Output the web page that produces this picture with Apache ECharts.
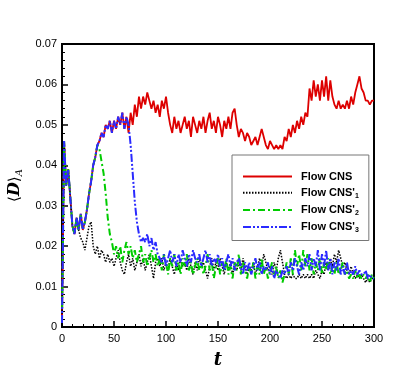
<!DOCTYPE html>
<html>
<head>
<meta charset="utf-8">
<script src="https://cdn.jsdelivr.net/npm/echarts@6/dist/echarts.min.js"></script>
<style>
  html, body { margin: 0; padding: 0; background: #fff; }
  #chart { width: 415px; height: 369px; }
</style>
</head>
<body>
<div id="chart"></div>
<script>
// sample times (t), every 2 units
const times = [0,2,4,6,8,10,12,14,16,18,20,22,24,26,28,30,32,34,36,38,40,42,44,46,48,50,
  52,54,56,58,60,62,64,66,68,70,72,74,76,78,80,82,84,86,88,90,92,94,96,98,100,
  102,104,106,108,110,112,114,116,118,120,122,124,126,128,130,132,134,136,138,140,142,144,146,148,150,
  152,154,156,158,160,162,164,166,168,170,172,174,176,178,180,182,184,186,188,190,192,194,196,198,200,
  202,204,206,208,210,212,214,216,218,220,222,224,226,228,230,232,234,236,238,240,242,244,246,248,250,
  252,254,256,258,260,262,264,266,268,270,272,274,276,278,280,282,284,286,288,290,292,294,296,298,300];

const flowCNS = [
  0.001,0.046,0.035,0.039,0.032,0.025,0.023,0.027,0.024,0.028,0.024,0.026,0.029,0.033,0.036,0.040,0.042,0.045,
  0.046,0.048,0.047,0.050,0.049,0.051,0.048,0.051,0.049,0.052,0.050,0.053,0.049,0.052,
  0.048,0.053,0.050,0.055,0.052,0.057,0.054,0.057,0.055,0.058,0.056,0.054,0.056,0.053,0.055,0.052,0.056,0.054,0.057,
  0.053,0.050,0.048,0.052,0.049,0.051,0.048,0.050,0.052,0.049,0.051,0.047,0.052,0.050,0.048,0.051,0.049,0.052,0.048,0.051,0.053,0.049,0.051,0.048,0.052,
  0.050,0.047,0.051,0.049,0.052,0.049,0.053,0.054,0.050,0.047,0.049,0.048,0.046,0.048,0.047,0.045,0.046,0.047,0.045,0.047,0.049,0.047,0.045,0.044,0.046,
  0.045,0.044,0.045,0.044,0.045,0.044,0.047,0.046,0.049,0.047,0.050,0.048,0.051,0.049,0.052,0.050,0.053,0.052,0.059,0.056,0.061,0.057,0.060,0.056,0.061,
  0.057,0.062,0.056,0.061,0.057,0.055,0.054,0.056,0.054,0.055,0.054,0.056,0.054,0.057,0.055,0.058,0.060,0.062,0.059,0.058,0.056,0.056,0.055,0.056,0.056];

const flowCNS1 = [
  0.001,0.046,0.035,0.039,0.032,0.025,0.023,0.027,0.024,
  0.022,0.021,0.019,0.022,0.025,0.026,0.020,0.018,0.020,0.017,0.019,0.018,0.016,0.018,0.016,0.017,0.015,0.017,0.019,0.016,0.014,0.013,0.016,
  0.018,0.015,0.017,0.014,0.016,0.018,0.015,0.017,0.014,0.016,0.018,0.015,0.012,0.016,0.017,0.015,0.017,0.014,0.016,
  0.014,0.017,0.015,0.013,0.016,0.014,0.017,0.015,0.016,0.014,0.017,0.015,0.013,0.016,0.014,0.017,0.015,0.016,0.014,0.012,0.015,0.017,0.014,0.016,0.014,
  0.017,0.015,0.013,0.016,0.014,0.016,0.013,0.015,0.014,0.016,0.014,0.017,0.015,0.013,0.015,0.014,0.016,0.013,0.015,0.017,0.015,0.018,0.016,0.014,0.015,
  0.013,0.016,0.014,0.017,0.019,0.016,0.013,0.012,0.013,0.012,0.013,0.012,0.012,0.013,0.012,0.013,0.012,0.013,0.012,0.013,0.012,0.014,0.013,0.012,0.014,
  0.013,0.016,0.014,0.017,0.015,0.018,0.016,0.019,0.017,0.015,0.016,0.014,0.013,0.015,0.013,0.012,0.013,0.012,0.013,0.012,0.011,0.012,0.011,0.012,0.012];

const flowCNS2 = [
  0.001,0.046,0.035,0.039,0.032,0.025,0.023,0.027,0.024,0.028,0.024,0.026,0.029,0.033,0.036,0.040,0.042,0.045,
  0.044,0.041,0.038,0.033,0.027,0.023,0.021,0.018,0.020,0.017,0.020,0.016,0.019,0.021,
  0.018,0.020,0.017,0.019,0.016,0.018,0.020,0.016,0.018,0.015,0.017,0.019,0.016,0.018,0.015,0.017,0.014,0.018,0.016,
  0.013,0.017,0.015,0.018,0.014,0.016,0.013,0.017,0.015,0.018,0.014,0.016,0.013,0.015,0.017,0.014,0.016,0.013,0.015,0.018,0.014,0.016,0.012,0.015,0.017,
  0.013,0.016,0.014,0.017,0.013,0.015,0.012,0.016,0.014,0.018,0.013,0.016,0.014,0.012,0.015,0.013,0.016,0.012,0.015,0.013,0.017,0.013,0.015,0.012,0.014,
  0.016,0.013,0.015,0.012,0.014,0.011,0.013,0.016,0.013,0.017,0.013,0.019,0.015,0.018,0.014,0.019,0.015,0.018,0.014,0.017,0.013,0.016,0.014,0.017,0.013,
  0.016,0.014,0.017,0.013,0.015,0.013,0.016,0.013,0.014,0.016,0.013,0.014,0.012,0.013,0.012,0.014,0.012,0.013,0.012,0.013,0.012,0.013,0.011,0.013,0.012];

const flowCNS3 = [
  0.001,0.046,0.035,0.039,0.032,0.025,0.023,0.027,0.024,0.028,0.024,0.026,0.029,0.033,0.036,0.040,0.042,0.045,
  0.046,0.048,0.047,0.050,0.049,0.051,0.048,0.051,0.049,0.052,0.050,0.053,0.049,0.052,
  0.050,0.045,0.038,0.031,0.026,0.023,0.021,0.022,0.021,0.023,0.020,0.022,0.019,0.021,0.018,0.017,0.016,0.018,0.015,
  0.017,0.019,0.016,0.018,0.015,0.018,0.016,0.019,0.017,0.015,0.018,0.016,0.019,0.017,0.016,0.018,0.015,0.017,0.019,0.016,0.018,0.015,0.017,0.016,0.018,
  0.015,0.017,0.014,0.016,0.018,0.015,0.017,0.014,0.016,0.017,0.015,0.013,0.016,0.014,0.016,0.013,0.015,0.017,0.014,0.016,0.013,0.015,0.014,0.016,0.013,
  0.015,0.012,0.014,0.013,0.012,0.014,0.013,0.015,0.013,0.016,0.014,0.017,0.015,0.013,0.016,0.014,0.017,0.015,0.018,0.014,0.017,0.015,0.019,0.014,0.018,
  0.015,0.019,0.014,0.017,0.013,0.016,0.014,0.017,0.013,0.015,0.013,0.016,0.013,0.014,0.013,0.015,0.013,0.014,0.013,0.013,0.014,0.012,0.013,0.012,0.012];

const xTicks = [0, 50, 100, 150, 200, 250, 300];
const yTicks = [0, 0.01, 0.02, 0.03, 0.04, 0.05, 0.06, 0.07];

const chart = echarts.init(document.getElementById('chart'));

function pairs(vals) {
  return times.map((t, i) => [t, vals[i]]);
}

const legendNames = {
  'Flow CNS': '{n|Flow CNS}',
  "Flow CNS'1": "{n|Flow CNS'}{s|1}",
  "Flow CNS'2": "{n|Flow CNS'}{s|2}",
  "Flow CNS'3": "{n|Flow CNS'}{s|3}"
};

const lbl = { color: '#000', fontFamily: 'Liberation Sans', fontSize: 11 };

const option = {
  animation: false,
  backgroundColor: '#fff',
  grid: { left: 62, right: 41, top: 44, bottom: 42, show: true, borderColor: '#000', borderWidth: 2,
    containLabel: false, outerBoundsMode: 'none' },
  legend: {
    orient: 'vertical',
    left: 232, top: 155,
    width: 135,
    padding: [16, 10, 7, 10],
    itemWidth: 49, itemHeight: 14, itemGap: 5,
    backgroundColor: '#fff',
    borderColor: '#777', borderWidth: 1,
    itemStyle: { opacity: 0 },
    formatter: (name) => legendNames[name],
    textStyle: {
      padding: [0, 0, 0, 4],
      rich: {
        n: { fontFamily: 'Liberation Sans', fontWeight: 'bold', fontSize: 11, color: '#000' },
        s: { fontFamily: 'Liberation Sans', fontWeight: 'bold', fontSize: 7, color: '#000', padding: [6, 0, 0, 0] }
      }
    },
    data: ['Flow CNS', "Flow CNS'1", "Flow CNS'2", "Flow CNS'3"]
  },
  xAxis: {
    type: 'value', min: 0, max: 300, interval: 50,
    name: 't', nameLocation: 'middle', nameGap: 24,
    nameTextStyle: { fontFamily: 'DejaVu Serif', fontStyle: 'italic', fontWeight: 'bold', fontSize: 18, color: '#000' },
    axisLine: { show: true, lineStyle: { color: '#000', width: 2 } },
    axisTick: { inside: true, length: 6, lineStyle: { color: '#000', width: 1.5 } },
    minorTick: { show: true, splitNumber: 5, length: 3, lineStyle: { color: '#000', width: 1 } },
    axisLabel: Object.assign({ margin: 6, formatter: (v) => xTicks.includes(v) ? String(v) : '' }, lbl),
    splitLine: { show: false }
  },
  yAxis: {
    type: 'value', min: 0, max: 0.07, interval: 0.01,
    name: '{b|⟨}{d|D}{b|⟩}{s|A}', nameLocation: 'middle', nameGap: 35, nameRotate: 90,
    nameTextStyle: {
      rich: {
        b: { fontFamily: 'DejaVu Serif', fontSize: 15, color: '#000' },
        d: { fontFamily: 'DejaVu Serif', fontStyle: 'italic', fontWeight: 'bold', fontSize: 16, color: '#000' },
        s: { fontFamily: 'DejaVu Serif', fontStyle: 'italic', fontSize: 10, color: '#000', padding: [10, 0, 0, 0] }
      }
    },
    axisLine: { show: true, lineStyle: { color: '#000', width: 2 } },
    axisTick: { inside: true, length: 6, lineStyle: { color: '#000', width: 1.5 } },
    minorTick: { show: true, splitNumber: 5, length: 3, lineStyle: { color: '#000', width: 1 } },
    axisLabel: Object.assign({ margin: 5, formatter: (v) => {
      const k = yTicks.findIndex(y => Math.abs(y - v) < 1e-9);
      if (k < 0) return '';
      return k === 0 ? '0' : yTicks[k].toFixed(2);
    } }, lbl),
    splitLine: { show: false }
  },
  series: [
    { name: 'Flow CNS', type: 'line', data: pairs(flowCNS), symbol: 'none',
      lineStyle: { color: '#dd0000', width: 1.8 }, itemStyle: { color: '#dd0000' } },
    { name: "Flow CNS'1", type: 'line', data: pairs(flowCNS1), symbol: 'none',
      lineStyle: { color: '#000', width: 1.5, type: [1.5, 1.5] }, itemStyle: { color: '#000' } },
    { name: "Flow CNS'2", type: 'line', data: pairs(flowCNS2), symbol: 'none',
      lineStyle: { color: '#00cc00', width: 2, type: [7, 3, 2, 3] }, itemStyle: { color: '#00cc00' } },
    { name: "Flow CNS'3", type: 'line', data: pairs(flowCNS3), symbol: 'none',
      lineStyle: { color: '#2a2aff', width: 2, type: [8, 2, 2, 2, 2, 2] }, itemStyle: { color: '#2a2aff' } }
  ]
};

chart.setOption(option);
window.addEventListener('resize', () => chart.resize());
</script>
</body>
</html>
